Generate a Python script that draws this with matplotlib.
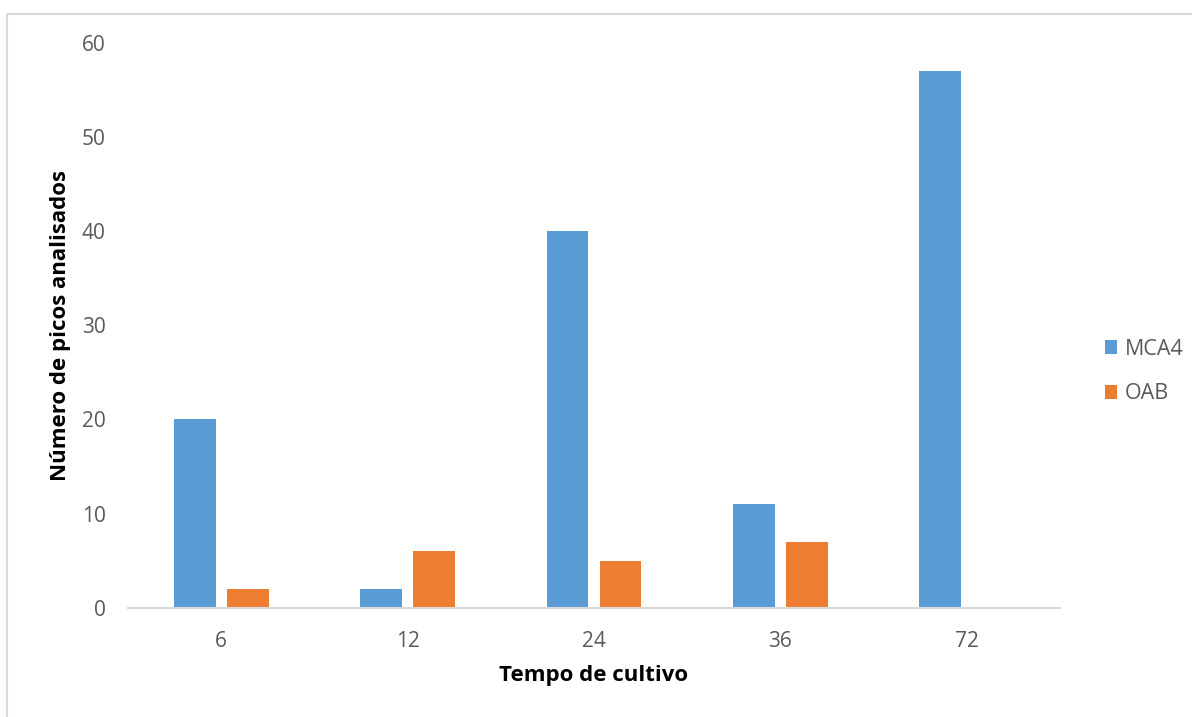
import numpy as np
import matplotlib.pyplot as plt
from matplotlib.patches import Rectangle

plt.rcParams['font.family'] = ['Open Sans', 'DejaVu Sans']

categories = ['6', '12', '24', '36', '72']
mca4 = [20, 2, 40, 11, 57]
oab = [2, 6, 5, 7, 0]

blue = '#5B9BD5'
orange = '#ED7D31'
grey_text = '#595959'

fig = plt.figure(figsize=(11.92, 7.17), dpi=100)
ax = fig.add_axes([128 / 1192, 1 - 607.7 / 717, 932 / 1192, (607.7 - 43) / 717])

# light outer frame of the chart area
fig.patches.append(Rectangle((7.5 / 1192, -0.1), 1.2, (717 - 14) / 717 + 0.1,
                             transform=fig.transFigure, fill=False,
                             edgecolor='#D9D9D9', linewidth=1.5))

x = np.arange(len(categories))
w = 0.224
ax.bar(x - 0.142, mca4, width=w, color=blue, label='MCA4')
ax.bar(x + 0.142, oab, width=w, color=orange, label='OAB')

ax.set_xlim(-0.5, 4.5)
ax.set_ylim(0, 60)
ax.set_yticks(range(0, 61, 10))
ax.set_xticks(x)
ax.set_xticklabels(categories)

for s in ['top', 'right', 'left']:
    ax.spines[s].set_visible(False)
ax.spines['bottom'].set_color('#D9D9D9')
ax.spines['bottom'].set_linewidth(1.5)

ax.tick_params(axis='both', length=0, labelsize=15, colors=grey_text)
ax.tick_params(axis='y', pad=16)
ax.tick_params(axis='x', pad=17)

ax.set_xlabel('Tempo de cultivo', fontsize=16, fontweight='bold', labelpad=9)
ax.set_ylabel('Número de picos analisados', fontsize=16, fontweight='bold', labelpad=8)

# legend sits right of the axes
ax.legend(loc='center left', bbox_to_anchor=(1.027, 0.418), frameon=False,
          fontsize=15.5, labelcolor=grey_text,
          handlelength=0.6, handleheight=0.6, handletextpad=0.35, labelspacing=1.1)

fig.savefig('out.png', dpi=100)
